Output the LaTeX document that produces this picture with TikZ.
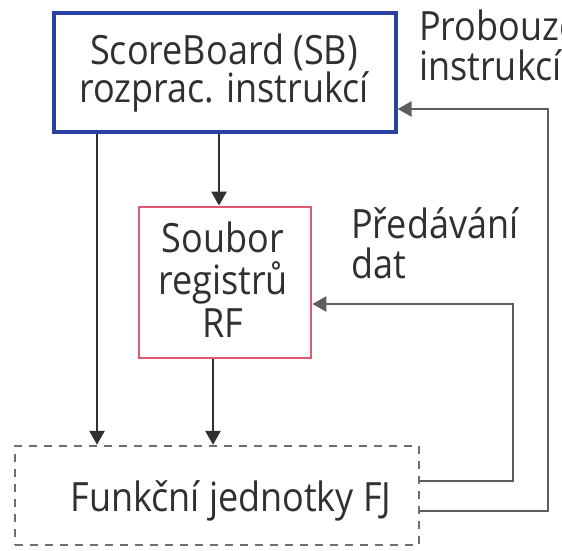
\documentclass[tikz,border=0pt]{standalone}
\usepackage{fontspec}
\usepackage{graphicx}
\setmainfont{Open Sans}
\usetikzlibrary{arrows.meta}
\definecolor{sbblue}{HTML}{2B40A3}
\definecolor{rfred}{HTML}{DD5A70}
\definecolor{fjgray}{HTML}{6E6E6E}
\definecolor{ink}{HTML}{303030}
% slightly tall lettering
\newcommand{\tl}[1]{\scalebox{1}[1.12]{#1}}
\tikzset{
  lbl/.style={font=\fontsize{36}{43}\selectfont, text=ink, align=center, inner sep=0pt},
  sbbox/.style={draw=sbblue, line width=3.2pt, fill=white, minimum width=342pt, minimum height=119pt, inner sep=0pt},
  rfbox/.style={draw=rfred, line width=2.8pt, fill=white, minimum width=172pt, minimum height=151pt, inner sep=0pt},
  fjbox/.style={draw=fjgray, line width=2.4pt, dash pattern=on 8pt off 7pt, minimum width=404pt, minimum height=99pt, inner sep=0pt},
  arr/.style={draw=ink, line width=2.6pt, -{Triangle[length=14pt,width=15pt]}},
  fb/.style={draw=ink!78, line width=2.6pt, -{Triangle[length=14pt,width=15pt]}}
}
\begin{document}
\begin{tikzpicture}[x=1pt,y=-1pt]
\useasboundingbox (0,0) rectangle (562,550);
\clip (0,0) rectangle (562,550);
\fill[white] (0,0) rectangle (562,550);

% blocks
\node[sbbox] (SB) at (225,72.5) {};
\node[lbl, anchor=base] (sbtext) at (224,64) {\tl{ScoreBoard (SB)}};
\node[lbl, anchor=base] (sbtext2) at (224,102) {\tl{rozprac. instrukcí}};
\node[rfbox] (RF) at (225,282.5) {};
\node[lbl, anchor=base] (rf1) at (223,252) {\tl{Soubor}};
\node[lbl, anchor=base] (rf2) at (223,294) {\tl{registrů}};
\node[lbl, anchor=base] (rf3) at (223,337) {\tl{RF}};
\node[fjbox] (FJ) at (217,495.5) {};
\node[lbl, anchor=base] (fjtext) at (231,511) {\tl{Funkční jednotky FJ}};

% side labels
\node[lbl, anchor=base west] (wake) at (419,40) {\tl{Probouzení}};
\node[lbl, anchor=base west] (wake2) at (419,80) {\tl{instrukcí}};
\node[lbl, anchor=base west] (pass) at (351,238) {\tl{Předávání}};
\node[lbl, anchor=base west] (pass2) at (351,278) {\tl{dat}};

% forward paths
\draw[arr] (SB.south -| 219,0) -- (RF.north -| 219,0);
\draw[arr] (SB.south -| 97,0) -- (FJ.north -| 97,0);
\draw[arr] (RF.south -| 213,0) -- (FJ.north -| 213,0);

% feedback paths
\coordinate (fbrf) at (513,304);
\coordinate (fbsb) at (548,109);
\draw[fb] (FJ.east |- 0,481) -| (fbrf) -- (RF.east |- fbrf);
\draw[fb] (FJ.east |- 0,511) -| (fbsb) -- (SB.east |- fbsb);
\end{tikzpicture}
\end{document}
